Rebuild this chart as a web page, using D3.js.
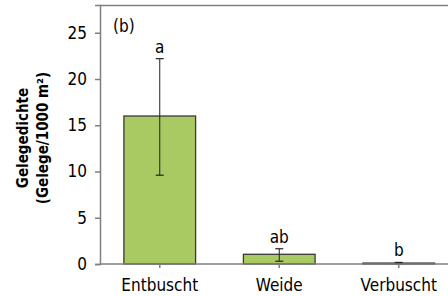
<!DOCTYPE html>
<html>
<head>
<meta charset="utf-8">
<script src="https://cdn.jsdelivr.net/npm/d3@7"></script>
<style>
  body { margin: 0; background: #fff; }
  text { font-family: "DejaVu Sans Condensed", "DejaVu Sans", sans-serif; }
</style>
</head>
<body>
<div id="chart"></div>
<script>
// data
var categories = ["Entbuscht", "Weide", "Verbuscht"];
var means = [16.0, 1.05, 0.1];
var errLow = [9.6, 0.3, 0.03];
var errHigh = [22.2, 1.65, 0.17];
var letters = ["a", "ab", "b"];
var yTicks = [0, 5, 10, 15, 20, 25];

var width = 448,
    height = 296,
    margin = { top: 5, left: 100, bottom: 32, right: 0 };

var svg = d3.select("#chart")
    .append("svg")
    .attr("width", width)
    .attr("height", height);

var yScale = d3.scaleLinear()
    .domain([0, 28])
    .range([height - margin.bottom, margin.top]);

var xScale = d3.scaleBand()
    .domain(categories)
    .range([margin.left, margin.left + 3 * 119.5])
    .paddingInner(0.4)
    .paddingOuter(0.2);

var axisColor = "#7f7f7f";
var fontSize = "17px";

// top frame line
svg.append("line")
    .attr("x1", margin.left).attr("x2", width)
    .attr("y1", margin.top + 0.5).attr("y2", margin.top + 0.5)
    .attr("stroke", axisColor).attr("stroke-width", 1.5);

// bars
svg.selectAll("rect.bar")
    .data(categories)
    .enter()
    .append("rect")
    .attr("class", "bar")
    .attr("x", function (d) { return xScale(d); })
    .attr("width", xScale.bandwidth())
    .attr("y", function (d, i) { return yScale(means[i]); })
    .attr("height", function (d, i) { return yScale(0) - yScale(means[i]); })
    .style("fill", "#a9c963")
    .style("stroke", "#3a3a3a")
    .style("stroke-width", 1.3);

// error bars
var cx = function (d) { return xScale(d) + xScale.bandwidth() / 2; };
svg.selectAll("line.err")
    .data(categories)
    .enter()
    .append("line")
    .attr("class", "err")
    .attr("x1", cx).attr("x2", cx)
    .attr("y1", function (d, i) { return yScale(errLow[i]); })
    .attr("y2", function (d, i) { return yScale(errHigh[i]); })
    .attr("stroke", "#222").attr("stroke-width", 1);

[errLow, errHigh].forEach(function (arr) {
    svg.selectAll(null)
        .data(categories)
        .enter()
        .append("line")
        .attr("x1", function (d) { return cx(d) - 4; })
        .attr("x2", function (d) { return cx(d) + 4; })
        .attr("y1", function (d, i) { return yScale(arr[i]); })
        .attr("y2", function (d, i) { return yScale(arr[i]); })
        .attr("stroke", "#222").attr("stroke-width", 1.2);
});

// significance letters
svg.selectAll("text.letter")
    .data(categories)
    .enter()
    .append("text")
    .attr("class", "letter")
    .attr("x", cx)
    .attr("y", function (d, i) { return yScale(errHigh[i]) - 6; })
    .attr("text-anchor", "middle")
    .attr("fill", "#000")
    .style("font-size", fontSize)
    .text(function (d, i) { return letters[i]; });

// y axis
var yAxis = svg.append("g")
    .attr("transform", "translate(" + margin.left + ",0)")
    .call(d3.axisLeft(yScale).tickValues(yTicks).tickSize(5).tickPadding(8));
yAxis.select(".domain").attr("stroke", axisColor).attr("stroke-width", 1.5);
yAxis.selectAll(".tick line").attr("stroke", axisColor).attr("stroke-width", 1.5);
yAxis.selectAll(".tick text").style("font-size", fontSize).attr("fill", "#000");

// x axis
var xAxis = svg.append("g")
    .attr("transform", "translate(0," + yScale(0) + ")")
    .call(d3.axisBottom(xScale).tickSize(4).tickPadding(11).tickSizeOuter(0));
xAxis.select(".domain").attr("d", "M" + margin.left + ",0H" + width).attr("stroke", axisColor).attr("stroke-width", 1.5);
xAxis.selectAll(".tick line").attr("stroke", axisColor).attr("stroke-width", 1.5);
xAxis.selectAll(".tick text").style("font-size", fontSize).attr("fill", "#000");
svg.selectAll("g").attr("font-family", null).attr("font-size", null);

// panel label
svg.append("text")
    .attr("x", 113).attr("y", 32)
    .attr("fill", "#000")
    .style("font-size", fontSize)
    .text("(b)");

// y axis title
var title = svg.append("text")
    .attr("transform", "translate(28,138) rotate(-90)")
    .attr("text-anchor", "middle")
    .attr("fill", "#000")
    .style("font-size", "15px")
    .style("font-weight", "bold");
title.append("tspan").attr("x", 0).attr("dy", 0).text("Gelegedichte");
title.append("tspan").attr("x", 0).attr("dy", 20).text("(Gelege/1000 m²)");
</script>
</body>
</html>
